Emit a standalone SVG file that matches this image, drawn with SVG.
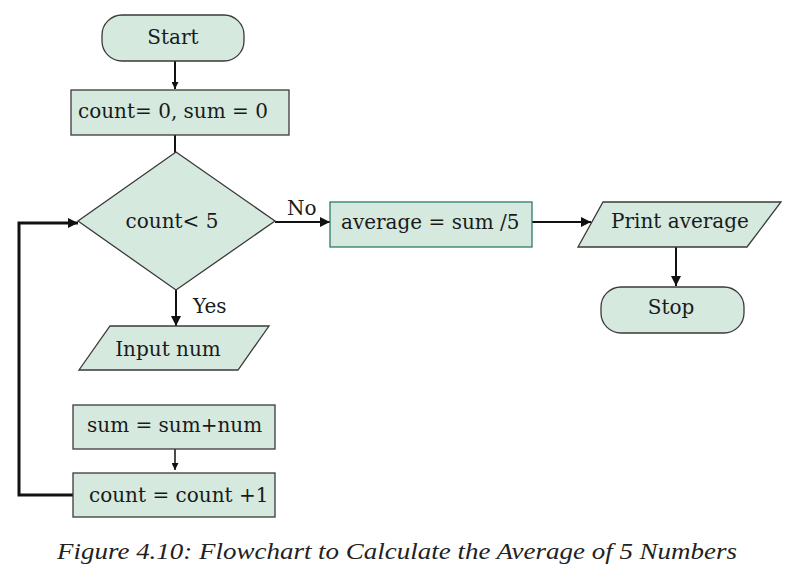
<svg xmlns="http://www.w3.org/2000/svg" width="796" height="573" viewBox="0 0 796 573">
<style>
.n{fill:#d5e9df;stroke:#3a3a3a;stroke-width:1.3}
.t{font-family:"DejaVu Serif","Liberation Serif",serif;font-size:20px;fill:#1a1a1a}
.c{stroke:#111;stroke-width:2;fill:none}
</style>
<defs>
<marker id="a" viewBox="0 0 10 10" refX="10" refY="5" markerWidth="11" markerHeight="10" orient="auto" markerUnits="userSpaceOnUse"><path d="M0,0L10,5L0,10z" fill="#111"/></marker>
<marker id="s" viewBox="0 0 10 10" refX="10" refY="5" markerWidth="7" markerHeight="7" orient="auto" markerUnits="userSpaceOnUse"><path d="M0,0L10,5L0,10z" fill="#111"/></marker>
</defs>
<rect width="796" height="573" fill="#fff"/>
<g id="connectors">
<line class="c" x1="175" y1="61" x2="175" y2="89" marker-end="url(#s)"/>
<line class="c" x1="175" y1="135" x2="175" y2="153"/>
<line class="c" x1="275" y1="222" x2="330" y2="222" marker-end="url(#a)"/>
<line class="c" x1="176" y1="290" x2="176" y2="326" marker-end="url(#a)"/>
<line class="c" x1="532" y1="222" x2="591" y2="222" marker-end="url(#a)"/>
<line class="c" x1="676" y1="247" x2="676" y2="286" marker-end="url(#a)"/>
<line class="c" x1="175" y1="449" x2="175" y2="470" marker-end="url(#s)" style="stroke-width:1.5"/>
<polyline class="c" points="73,495 19,495 19,223 78,223" style="stroke-width:3" marker-end="url(#a)"/>
<text class="t" x="287" y="215">No</text>
<text class="t" x="193" y="313">Yes</text>
</g>
<g id="start"><rect class="n" x="102" y="15" width="142" height="46" rx="20"/><text class="t" x="173" y="44" text-anchor="middle">Start</text></g>
<g id="init"><rect class="n" x="71" y="90" width="218" height="45"/><text class="t" x="78" y="118">count= 0, sum = 0</text></g>
<g id="decision"><polygon class="n" points="176,152 275,221 176,290 78,221"/><text class="t" x="172" y="228" text-anchor="middle">count&lt; 5</text></g>
<g id="input"><polygon class="n" points="110,326 269,326 238,370 79,370"/><text class="t" x="168" y="356" text-anchor="middle">Input num</text></g>
<g id="average"><rect class="n" x="330" y="202" width="202" height="45" style="stroke:#2e7a68"/><text class="t" x="341" y="229">average = sum /5</text></g>
<g id="print"><polygon class="n" points="603,202 781,202 747,247 578,247"/><text class="t" x="680" y="228" text-anchor="middle">Print average</text></g>
<g id="stop"><rect class="n" x="601" y="287" width="143" height="46" rx="20"/><text class="t" x="671" y="314" text-anchor="middle">Stop</text></g>
<g id="sum"><rect class="n" x="73" y="405" width="202" height="44"/><text class="t" x="87" y="432">sum = sum+num</text></g>
<g id="count"><rect class="n" x="73" y="473" width="202" height="44"/><text class="t" x="89" y="502">count = count +1</text></g>
<text x="397" y="559" text-anchor="middle" font-family="'Liberation Serif', serif" font-style="italic" font-size="23" fill="#222" textLength="680" lengthAdjust="spacingAndGlyphs">Figure 4.10: Flowchart to Calculate the Average of 5 Numbers</text>
</svg>
